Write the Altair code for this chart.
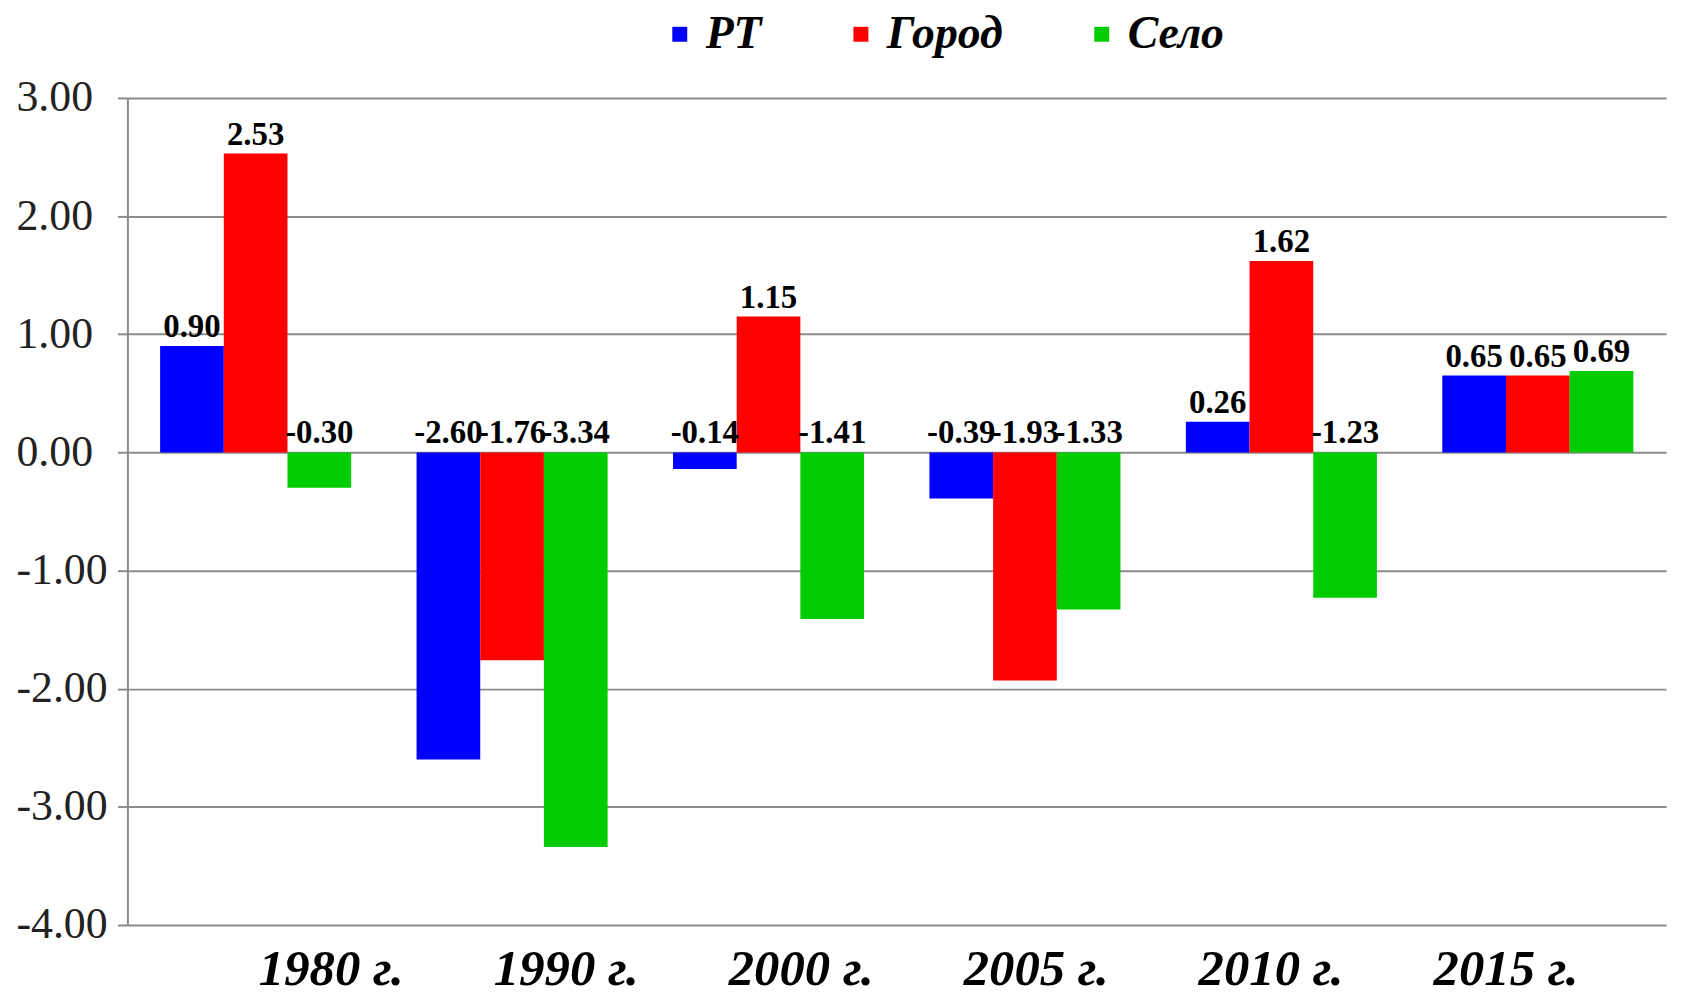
import altair as alt
import pandas as pd

years = ["1980 г.", "1990 г.", "2000 г.", "2005 г.", "2010 г.", "2015 г."]
series = ["РТ", "Город", "Село"]
rt = [0.90, -2.60, -0.14, -0.39, 0.26, 0.65]
gorod = [2.53, -1.76, 1.15, -1.93, 1.62, 0.65]
selo = [-0.30, -3.34, -1.41, -1.33, -1.23, 0.69]
colors = ["#0000ff", "#ff0000", "#00cc00"]

rows = []
for name, vals in zip(series, [rt, gorod, selo]):
    for y, v in zip(years, vals):
        rows.append({"year": y, "series": name, "value": v,
                     "labelpos": max(v, 0.0), "label": f"{v:.2f}"})
df = pd.DataFrame(rows)

FONT = "Liberation Serif"

x = alt.X("year:N", sort=years, title=None,
          scale=alt.Scale(paddingInner=0.255, paddingOuter=0.1275),
          axis=alt.Axis(domain=False, ticks=False, labelAngle=0,
                        labelFont=FONT, labelFontSize=51, labelFontWeight="bold",
                        labelFontStyle="italic", labelColor="#000000",
                        labelPadding=20, labelBaseline="top",
                        labelOffset={"expr": "76 - 108 * datum.index"}))
xo = alt.XOffset("series:N", sort=series)

bars = alt.Chart(df).mark_bar().encode(
    x=x,
    xOffset=xo,
    y=alt.Y("value:Q", title=None,
            scale=alt.Scale(domain=[-4, 3], nice=False),
            axis=alt.Axis(values=[-4, -3, -2, -1, 0, 1, 2, 3],
                          labelExpr="replace(format(datum.value, '.2f'), '\u2212', '-')",
                          gridColor="#8c8c8c", gridWidth=2, gridOpacity=1,
                          domainColor="#8c8c8c", domainWidth=2,
                          tickColor="#8c8c8c", tickWidth=2, tickSize=10,
                          labelFont=FONT, labelFontSize=44, labelColor="#222222",
                          labelAlign="left", labelPadding=102)),
    color=alt.Color("series:N", sort=series,
                    scale=alt.Scale(domain=series, range=colors),
                    legend=alt.Legend(orient="none", legendX=532, legendY=-87,
                                      direction="horizontal", title=None,
                                      symbolType="square", symbolSize=225,
                                      symbolStrokeWidth=0, symbolOpacity=1,
                                      labelFont=FONT, labelFontSize=46,
                                      labelFontStyle="italic", labelFontWeight="bold",
                                      labelColor="#000000", columnPadding=76,
                                      labelOffset=3, padding=0)),
)

labels = alt.Chart(df).mark_text(
    font=FONT, fontSize=33, fontWeight="bold", color="#000000",
    baseline="alphabetic", dy=-9
).encode(
    x=alt.X("year:N", sort=years),
    xOffset=xo,
    y=alt.Y("labelpos:Q"),
    text="label:N",
)

chart = (bars + labels).properties(
    width=1546, height=831,
    autosize=alt.AutoSizeParams(type="none"),
    padding={"left": 120, "top": 88, "right": 9, "bottom": 80},
).configure_view(stroke=None)

chart.save("out.html", embed_options={"renderer": "svg", "actions": False})
